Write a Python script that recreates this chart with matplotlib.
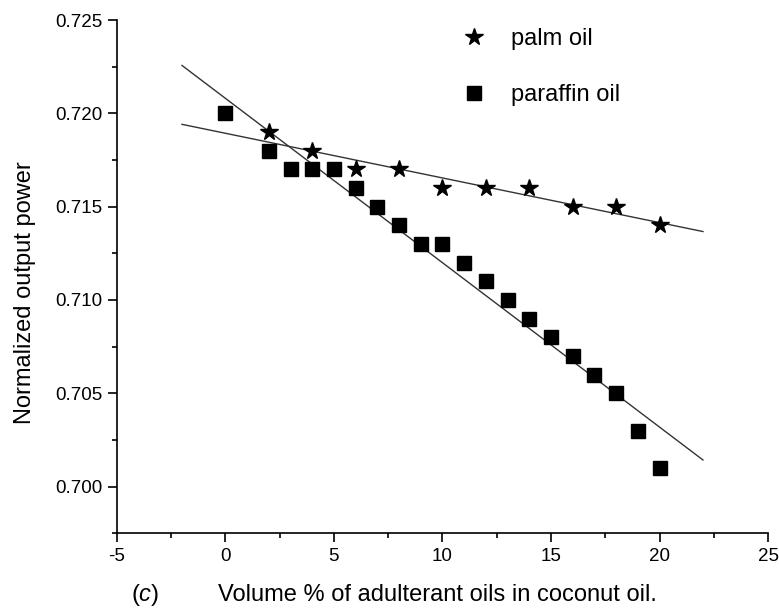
import matplotlib
matplotlib.use("Agg")
import matplotlib.pyplot as plt
import numpy as np
from matplotlib.ticker import MultipleLocator, FormatStrFormatter

plt.rcParams['font.family'] = ['Liberation Sans', 'DejaVu Sans']
plt.rcParams['axes.unicode_minus'] = False
plt.rcParams['mathtext.fontset'] = 'custom'
plt.rcParams['mathtext.it'] = 'Liberation Sans:italic'
plt.rcParams['mathtext.rm'] = 'Liberation Sans'

# palm oil data
palm_x = [2, 4, 6, 8, 10, 12, 14, 16, 18, 20]
palm_y = [0.719, 0.718, 0.717, 0.717, 0.716, 0.716, 0.716, 0.715, 0.715, 0.714]

# paraffin oil data
paraffin_x = [0, 2, 3, 4, 5, 6, 7, 8, 9, 10, 11, 12, 13, 14, 15, 16, 17, 18, 19, 20]
paraffin_y = [0.720, 0.718, 0.717, 0.717, 0.717, 0.716, 0.715, 0.714, 0.713, 0.713,
              0.712, 0.711, 0.710, 0.709, 0.708, 0.707, 0.706, 0.705, 0.703, 0.701]

# linear fits, drawn from -2 to 22
xfit = np.array([-2, 22])
p1 = np.polyfit(palm_x, palm_y, 1)
p2 = np.polyfit(paraffin_x, paraffin_y, 1)

fig = plt.figure(figsize=(7.79, 6.08), dpi=100)
ax = fig.add_axes([0.150, 0.123, 0.836, 0.844])

ax.plot(xfit, np.polyval(p1, xfit), color='#333333', lw=1.0)
ax.plot(xfit, np.polyval(p2, xfit), color='#333333', lw=1.0)
ax.plot(palm_x, palm_y, ls='none', marker='*', ms=13, color='black', label='palm oil')
ax.plot(paraffin_x, paraffin_y, ls='none', marker='s', ms=10, color='black', label='paraffin oil')

ax.set_xlim(-5, 25)
ax.set_ylim(0.6975, 0.725)
ax.xaxis.set_major_locator(MultipleLocator(5))
ax.xaxis.set_minor_locator(MultipleLocator(2.5))
ax.yaxis.set_major_locator(MultipleLocator(0.005))
ax.yaxis.set_minor_locator(MultipleLocator(0.0025))
ax.yaxis.set_major_formatter(FormatStrFormatter('%.3f'))

for s in ['top', 'right']:
    ax.spines[s].set_visible(False)
for s in ['left', 'bottom']:
    ax.spines[s].set_linewidth(1.2)
ax.tick_params(which='major', direction='out', length=6.5, width=1.2, labelsize=13.5, pad=4)
ax.tick_params(which='minor', direction='out', length=3.5, width=1.2)

# axis labels placed in figure coordinates
fig.text(25 / 779, 0.518, 'Normalized output power', fontsize=17, rotation=90,
         ha='center', va='center')
fig.text(437 / 779, 0.022, 'Volume % of adulterant oils in coconut oil.', fontsize=17,
         ha='center', va='center')
fig.text(145 / 779, 0.022, r'($\mathit{c}$)', fontsize=17, ha='center', va='center')

ax.legend(loc='upper left', bbox_to_anchor=(450 / 779, 0.954), bbox_transform=fig.transFigure,
          frameon=False, fontsize=17, handlelength=2, handletextpad=0.6,
          labelspacing=1.45, borderpad=0, borderaxespad=0)

fig.savefig('out.png', dpi=100)
